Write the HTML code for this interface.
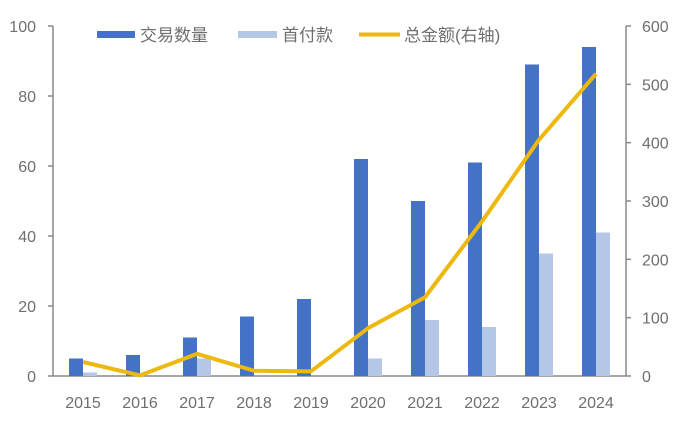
<!DOCTYPE html>
<html><head><meta charset="utf-8"><style>
body{margin:0;background:#fff;}
svg text{font-family:"Liberation Sans","Noto Sans CJK SC",sans-serif;fill:#6f6f6f;}
</style></head><body>
<svg width="687" height="422" id="c">
<g>
<rect x="97" y="31" width="38" height="7" fill="#4472C4"/>
<text x="140" y="41" font-size="17">交易数量</text>
<rect x="238" y="31" width="39" height="7" fill="#B4C7E7"/>
<text x="282" y="41" font-size="17">首付款</text>
<rect x="359" y="32.5" width="41" height="4" fill="#EDB90F"/>
<text x="404" y="41" font-size="17">总金额(右轴)</text>
</g>
</svg>
<script>
const categories=["2015","2016","2017","2018","2019","2020","2021","2022","2023","2024"];
const countValues=[5,6,11,17,22,62,50,61,89,94];
const downValues=[1,0,5,0,0,5,16,14,35,41];
const totalValues=[24,1,38,9,8,82,135,265,405,518];
const leftTicks=[0,20,40,60,80,100];
const rightTicks=[0,100,200,300,400,500,600];
const NS="http://www.w3.org/2000/svg";
const svg=document.getElementById('c');
const y0=376,yTop=26;
const yL=v=>y0-(v/100)*(y0-yTop);
const yR=v=>y0-(v/600)*(y0-yTop);
const xC=i=>83+i*57;
function mk(t,a,p){const e=document.createElementNS(NS,t);for(const k in a)e.setAttribute(k,a[k]);(p||svg).appendChild(e);return e;}
// axes
let ax=mk('line',{x1:53,y1:yTop,x2:53,y2:y0,stroke:'#888','stroke-width':1.5});


ax=mk('line',{x1:626,y1:yTop,x2:626,y2:y0,stroke:'#888','stroke-width':1.5});


ax=mk('line',{x1:53,y1:y0,x2:626,y2:y0,stroke:'#888','stroke-width':1.5});


leftTicks.forEach(v=>{
 const l=mk('line',{x1:48,x2:53,y1:yL(v),y2:yL(v),stroke:'#888','stroke-width':1.5});
 
 
 const t=mk('text',{x:36,y:yL(v)+6,'text-anchor':'end','font-size':16});t.textContent=v;
 
 
});
rightTicks.forEach(v=>{
 const l=mk('line',{x1:626,x2:631,y1:yR(v),y2:yR(v),stroke:'#888','stroke-width':1.5});
 
 
 const t=mk('text',{x:642,y:yR(v)+6,'font-size':16});t.textContent=v;
 
 
});
categories.forEach((c,i)=>{
 const t=mk('text',{x:xC(i),y:408,'text-anchor':'middle','font-size':16});t.textContent=c;
 
 
 const b=mk('rect',{x:xC(i)-14,y:yL(countValues[i]),width:14,height:y0-yL(countValues[i]),fill:'#4472C4'});
 
 
 const d=mk('rect',{x:xC(i),y:yL(downValues[i]),width:14,height:y0-yL(downValues[i]),fill:'#B4C7E7'});
 
 
});
const pl=mk('polyline',{points:totalValues.map((v,i)=>xC(i)+','+yR(v)).join(' '),fill:'none',stroke:'#EDB90F','stroke-width':4,'stroke-linejoin':'round'});


</script>
</body></html>
